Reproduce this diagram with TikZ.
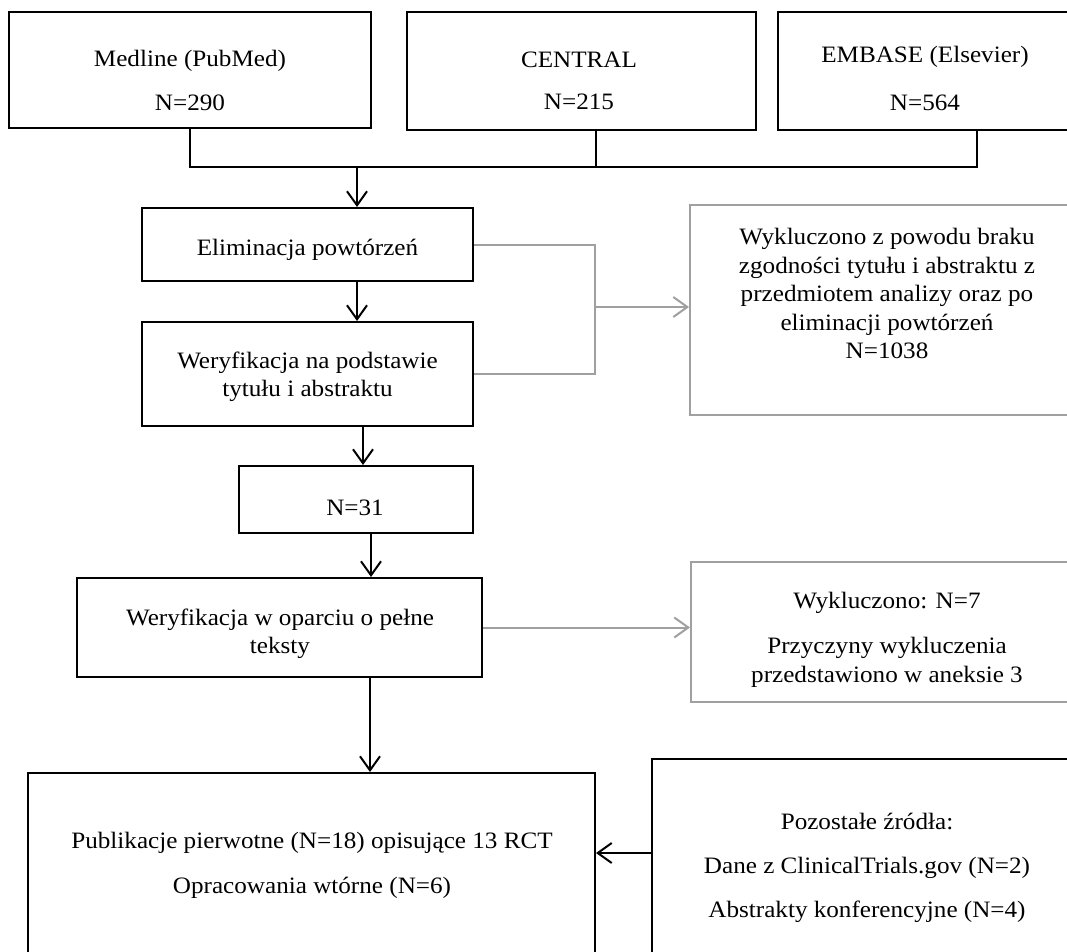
\documentclass[tikz,border=0pt]{standalone}
\usepackage{fontspec}
\setmainfont{Liberation Serif}[FakeStretch=1.07]
\usetikzlibrary{arrows.meta,positioning}
\definecolor{exclgray}{RGB}{160,160,160}
\tikzset{
  box/.style={draw, line width=2pt, inner sep=0pt},
  gbox/.style={box, draw=exclgray},
  txt/.style={align=center, inner sep=0pt, font=\fontsize{23.5pt}{28.5pt}\selectfont},
  link/.style={line width=2pt},
  glink/.style={link, draw=exclgray},
  flow/.style={link, -{Straight Barb[length=14pt, width=20pt]}},
  gflow/.style={flow, draw=exclgray}
}

\begin{document}
\begin{tikzpicture}[x=1pt, y=-1pt]
    \useasboundingbox (0,0) rectangle (1067,952);

    % databases
    \node[box, minimum width=362pt, minimum height=116pt] (medline) at (190,70) {};
    \node[box, minimum width=349pt, minimum height=118pt] (central) at (581.5,71) {};
    \node[box, minimum width=294pt, minimum height=118pt] (embase) at (925,71) {};
    \node[txt] (medlinetxt) at (190,80) {Medline (PubMed)\\[15.5pt]N=290};
    \node[txt] (centraltxt) at (579,81) {CENTRAL\\[13.5pt]N=215};
    \node[txt] (embasetxt) at (925,78) {EMBASE (Elsevier)\\[19.5pt]N=564};

    \coordinate (bus) at (357,167);
    \draw[link] (medline.south) |- ([xshift=52pt]embase.south |- bus) -- ([xshift=52pt]embase.south);
    \draw[link] ([xshift=14pt]central.south) -- ([xshift=14pt]central.south |- bus);

      % screening
      \node[box, minimum width=331pt, minimum height=73pt] (dup) at (307.5,244.5) {};
      \node[txt] (duptxt) at (307.5,250) {Eliminacja powtórzeń};
      \node[box, minimum width=331pt, minimum height=104pt] (title) at (307.5,374) {};
      \node[txt] (titletxt) at (307.5,377) {Weryfikacja na podstawie\\tytułu i abstraktu};
      \node[box, minimum width=234pt, minimum height=67pt] (n31) at (356,499.5) {};
      \node[txt] (n31txt) at (355,508) {N=31};
      \node[box, minimum width=405pt, minimum height=99pt] (fulltext) at (279.5,627.5) {};
      \node[txt] (fulltexttxt) at (280,634) {Weryfikacja w oparciu o pełne\\teksty};

    % excluded
    \node[gbox, minimum width=394pt, minimum height=210pt] (excl1) at (887,310) {};
    \node[txt] (excl1txt) at (887,293.5) {Wykluczono z powodu braku\\zgodności tytułu i abstraktu z\\przedmiotem analizy oraz po\\eliminacji powtórzeń\\N=1038};
    \node[gbox, minimum width=393pt, minimum height=140pt] (excl2) at (887.5,632) {};
    \node[txt] (excl2txt) at (887,640) {Wykluczono: N=7\\[16.5pt]Przyczyny wykluczenia\\przedstawiono w aneksie 3};

    % included
    \node[box, minimum width=567pt, minimum height=187pt] (incl) at (311.5,866.5) {};
    \node[txt] (incltxt) at (312,865) {Publikacje pierwotne (N=18) opisujące 13 RCT\\[16.5pt]Opracowania wtórne (N=6)};
    \node[box, minimum width=430pt, minimum height=201pt] (other) at (867,859.5) {};
    \node[txt] (othertxt) at (867,868) {Pozostałe źródła:\\[16pt]Dane z ClinicalTrials.gov (N=2)\\[15.5pt]Abstrakty konferencyjne (N=4)};

    \draw[flow] (bus) -- (bus |- dup.north);
    \draw[flow] ([xshift=49.5pt]dup.south) -- ([xshift=49.5pt]title.north);
    \draw[flow] ([xshift=55.5pt]title.south) -- ([xshift=7pt]n31.north);
    \draw[flow] ([xshift=15pt]n31.south) -- ([xshift=91.5pt]fulltext.north);
    \draw[flow] ([xshift=90.5pt]fulltext.south) -- ([xshift=58.5pt]incl.north);
    \draw[flow] ([yshift=6.5pt]other.west) -- ([yshift=13.5pt]incl.east);

    \coordinate (screen) at (595,307);
    \draw[glink] (dup.east) -| (screen) |- (title.east);
    \draw[gflow] (screen) -- (screen -| excl1.west);
    \draw[gflow] (fulltext.east) -- (fulltext.east -| excl2.west);
\end{tikzpicture}
\end{document}
